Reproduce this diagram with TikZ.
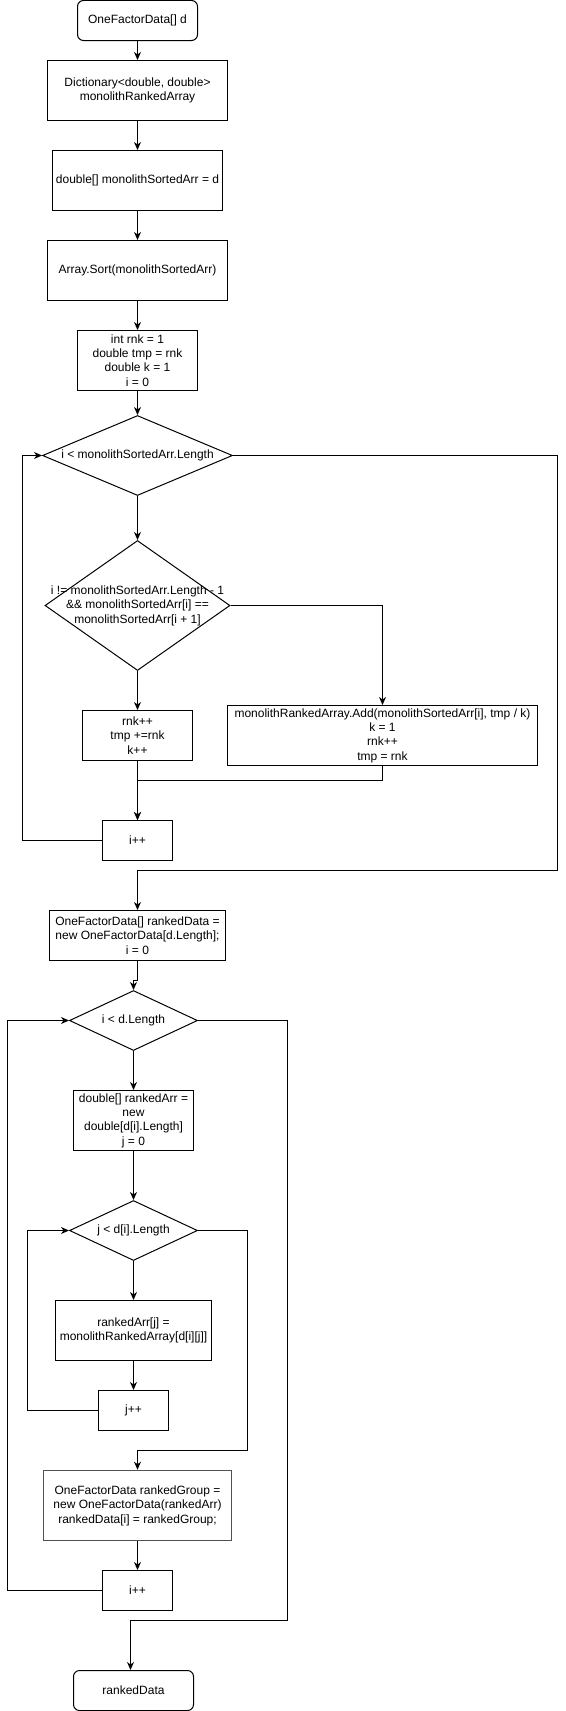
\documentclass[tikz,border=0pt]{standalone}
\usepackage{fontspec}
\setmainfont{Liberation Sans}
\usetikzlibrary{shapes.geometric,arrows.meta}
\begin{document}
\begin{tikzpicture}[x=1bp,y=-1bp,
  every node/.style={font=\fontsize{12bp}{14.4bp}\selectfont, align=center, inner sep=0pt},
  procbox/.style={draw, line width=1bp, rectangle},
  termbox/.style={draw, line width=1bp, rectangle, rounded corners=6bp},
  graybox/.style={draw=black!68, line width=1.6bp, rectangle},
  dia/.style={draw, line width=1bp, diamond, inner sep=0pt},
  arr/.style={-{Stealth[length=8bp,width=7bp,inset=2.5bp]}, line width=1bp},
  plain/.style={line width=1bp}
]
\useasboundingbox (0,0) rectangle (566,1711);

% nodes
\node[termbox, minimum width=120bp, minimum height=40bp] (start) at (137.5,20.5) {OneFactorData[] d};
\node[procbox, minimum width=180bp, minimum height=60bp] (dict) at (137.5,90.5) {Dictionary<double, double>\\monolithRankedArray};
\node[procbox, minimum width=170bp, minimum height=60bp] (sorted) at (137.5,180.5) {double[] monolithSortedArr = d};
\node[procbox, minimum width=180bp, minimum height=60bp] (sort) at (137.5,270.5) {Array.Sort(monolithSortedArr)};
\node[procbox, minimum width=120bp, minimum height=60bp] (init) at (137.5,360.5) {int rnk = 1\\double tmp = rnk\\double k = 1\\i = 0};
\node[dia, minimum width=190bp, minimum height=80bp, label={center:{i < monolithSortedArr.Length}}] (d1) at (137.5,455.5) {};
\node[dia, minimum width=185bp, minimum height=130bp, label={center:{i != monolithSortedArr.Length - 1\\\&\& monolithSortedArr[i] ==\\monolithSortedArr[i + 1]}}] (d2) at (137.5,605.5) {};
\node[procbox, minimum width=110bp, minimum height=50bp] (inc) at (137.5,735.5) {rnk++\\tmp +=rnk\\k++};
\node[procbox, minimum width=310bp, minimum height=60bp] (add) at (382.5,735.5) {monolithRankedArray.Add(monolithSortedArr[i], tmp / k)\\k = 1\\rnk++\\tmp = rnk};
\node[procbox, minimum width=70bp, minimum height=40bp] (ipp1) at (137.5,840.5) {i++};
\node[procbox, minimum width=176bp, minimum height=50bp] (rd) at (137.5,935.5) {OneFactorData[] rankedData =\\new OneFactorData[d.Length];\\i = 0};
\node[dia, minimum width=128bp, minimum height=60bp, label={center:{i < d.Length}}] (d3) at (133.5,1020.5) {};
\node[procbox, minimum width=120bp, minimum height=60bp] (ra) at (133.5,1120.5) {double[] rankedArr =\\new\\double[d[i].Length]\\j = 0};
\node[dia, minimum width=128bp, minimum height=60bp, label={center:{j < d[i].Length}}] (d4) at (133.5,1230.5) {};
\node[procbox, minimum width=155bp, minimum height=60bp] (asg) at (133.5,1330.5) {rankedArr[j] =\\monolithRankedArray[d[i][j]]};
\node[procbox, minimum width=70bp, minimum height=40bp] (jpp) at (133.5,1410.5) {j++};
\node[graybox, minimum width=188bp, minimum height=70bp] (grp) at (137.5,1505.5) {OneFactorData rankedGroup =\\new OneFactorData(rankedArr)\\rankedData[i] = rankedGroup;};
\node[procbox, minimum width=70bp, minimum height=40bp] (ipp2) at (137.5,1590.5) {i++};
\node[termbox, minimum width=120bp, minimum height=40bp] (end) at (133.5,1690.5) {rankedData};

% waypoints
\coordinate (m1) at (382.5,780.5);
\coordinate (l1) at (22.5,840.5);
\coordinate (r1a) at (557.5,455.5);
\coordinate (r1b) at (557.5,870.5);
\coordinate (r1c) at (137.5,870.5);
\coordinate (j1a) at (137.5,980.5);
\coordinate (j1b) at (133.5,980.5);
\coordinate (l4) at (27.5,1410.5);
\coordinate (r4a) at (247.5,1230.5);
\coordinate (r4b) at (247.5,1450.5);
\coordinate (r4c) at (137.5,1450.5);
\coordinate (l3) at (7.5,1590.5);
\coordinate (r3a) at (287.5,1020.5);
\coordinate (r3b) at (287.5,1620.5);
\coordinate (r3c) at (130.5,1620.5);

% connectors
\draw[arr] (start) -- (dict);
\draw[arr] (dict) -- (sorted);
\draw[arr] (sorted) -- (sort);
\draw[arr] (sort) -- (init);
\draw[arr] (init) -- (d1);
\draw[arr] (d1.south) -- (d2.north);
\draw[arr] (d2.south) -- (inc.north);
\draw[arr] (d2.east) -| (add.north);
\draw[arr] (inc.south) -- (ipp1.north);
\draw[arr] (add.south) -- (m1) -| (ipp1.north);
\draw[arr] (ipp1.west) -- (l1) |- (d1.west);
\draw[arr] (d1.east) -- (r1a) -- (r1b) -- (r1c) -- (rd.north);
\draw[arr] (rd.south) -- (j1a) -- (j1b) -- (d3.north);
\draw[arr] (d3.south) -- (ra.north);
\draw[arr] (ra.south) -- (d4.north);
\draw[arr] (d4.south) -- (asg.north);
\draw[arr] (asg.south) -- (jpp.north);
\draw[arr] (jpp.west) -- (l4) |- (d4.west);
\draw[arr] (d4.east) -- (r4a) -- (r4b) -- (r4c) -- (grp.north);
\draw[arr] (grp.south) -- (ipp2.north);
\draw[arr] (ipp2.west) -- (l3) |- (d3.west);
\draw[arr] (d3.east) -- (r3a) -- (r3b) -- (r3c) -- (r3c |- end.north);
\end{tikzpicture}
\end{document}
